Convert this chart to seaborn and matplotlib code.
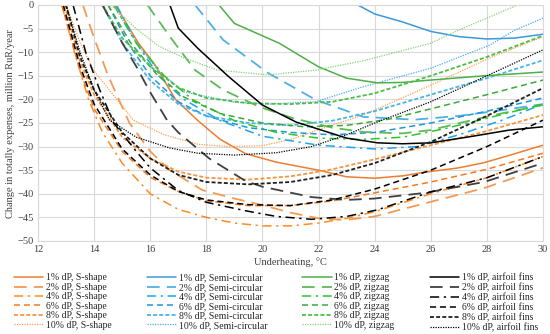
import matplotlib
matplotlib.use("Agg")
import matplotlib.pyplot as plt
import seaborn as sns
import pandas as pd

# ---------------- data ----------------
pcts = ["1%", "2%", "4%", "6%", "8%", "10%"]

# S-shape (orange)
s1_x = [14.76, 15.57, 16.17, 16.5, 16.9, 17.7, 18.5, 19.4, 20.5, 22, 23, 24, 25, 25.7, 27, 27.9, 29, 30]
s1_y = [0, -8, -12.7, -16, -20, -24.5, -28.5, -31.5, -33.3, -35, -36.4, -36.7, -36.2, -35.5, -34.5, -33.4, -31.5, -29.7]
s2_x = [13.6, 14, 14.5, 15.26, 16, 16.7, 17.85, 19, 20, 21, 22.1, 23, 24, 25.8, 27.9, 30]
s2_y = [0, -7, -15, -25, -31, -35, -39.2, -41, -42.4, -44, -45.3, -45.5, -44.8, -42, -38.8, -34.5]
s4_x = [12.85, 13.3, 13.8, 14.3, 15, 16, 17, 18, 19, 20, 21, 22, 23, 24, 26, 28, 30]
s4_y = [0, -10, -20, -27, -33.5, -40, -43.3, -45, -46.2, -46.8, -46.8, -46.2, -45.2, -43.8, -40, -36.6, -32.1]
s6_x = [12.85, 13.5, 14, 15, 16, 17, 18, 19.5, 21, 22.5, 24, 26, 28, 30]
s6_y = [0, -14, -22, -31, -36.5, -39.5, -41.5, -42.5, -42.5, -41.5, -39.8, -37.5, -34.8, -31.4]
s8_x = [12.95, 13.5, 14, 15, 16, 17, 18, 19.5, 21, 22.5, 24, 26, 28, 30]
s8_y = [0, -12, -19, -28, -32.5, -35.3, -36.6, -37, -36.3, -34.8, -32.7, -29.7, -26.7, -23.3]
s10_x = [13.0, 13.5, 14, 15.4, 16.5, 17.7, 18.8, 20, 21, 22.2, 23.6, 26, 28.1, 30]
s10_y = [0, -8, -14, -24.4, -27.5, -29.5, -30, -29.8, -28.5, -26, -23.3, -17, -11.2, -6.7]

# Semi-circular (blue)
c1_x = [23.4, 24, 25, 26, 27, 28, 29, 30]
c1_y = [0, -1.9, -3.6, -5.6, -6.7, -7.2, -7.0, -6.2]
c2_x = [17.6, 18.6, 20.2, 21.9, 23.6, 25.4, 27, 28.5, 30]
c2_y = [0, -7.4, -14.4, -20.1, -23.7, -24.3, -23.5, -22.3, -21]
c4_x = [14.8, 15.5, 16.3, 17.2, 18.5, 20, 22, 24, 25.5, 27, 28.5, 30]
c4_y = [0, -8, -15, -20, -24.5, -27.8, -29.7, -30.5, -30, -27.5, -24.5, -21]
c6_x = [14.5, 15.2, 16, 17, 18, 19.5, 21, 22.5, 24, 26, 28, 30]
c6_y = [0, -8, -15, -20.5, -23.5, -26, -27, -27.5, -27, -25, -22.5, -19.7]
c8_x = [14.3, 15, 16, 17, 18, 19.5, 21, 22.5, 24, 26, 28, 30]
c8_y = [0, -8, -16, -21, -23.5, -25, -25.5, -24.5, -22.5, -19, -15.5, -11.7]
c10_x = [14.7, 15.5, 16.3, 17.2, 19, 20.2, 21.9, 23.6, 26, 28.1, 29, 30]
c10_y = [0, -8, -14, -18.4, -20.6, -21, -20.5, -17.3, -13.4, -8.5, -5.3, -2.8]

# zigzag (green)
z1_x = [18.45, 19, 20.6, 22, 23, 24.1, 25, 26, 27.9, 30]
z1_y = [0, -3.9, -8.1, -13.1, -15.5, -16.5, -16.4, -15.9, -15.0, -14.2]
z2_x = [15.9, 16.8, 17.6, 18.6, 19.9, 21.1, 22.5, 23.6, 25, 26, 27.1, 28.5, 30]
z2_y = [0, -7.5, -13.8, -18, -21.6, -24, -26, -26.9, -27.2, -26.5, -24.9, -23, -21.2]
z4_x = [14.7, 15.5, 16.5, 17.5, 19, 20.5, 22, 23.5, 25, 26.5, 28, 30]
z4_y = [0, -8, -15, -20, -24.5, -27, -28.2, -28.5, -28, -26.2, -24, -21]
z6_x = [14.5, 15.3, 16.2, 17.2, 18.5, 20, 21.5, 23, 24.5, 26, 28, 30]
z6_y = [0, -8, -14.5, -19.5, -23, -25, -25.8, -25.5, -24.2, -22, -19, -15.9]
z8_x = [14.3, 15, 16, 17, 18, 19.5, 21, 22.5, 24, 26, 28, 30]
z8_y = [0, -7, -13, -17.5, -19.7, -20.8, -21, -20.5, -18.7, -15, -11, -6.5]
z10_x = [14.6, 15.5, 16.3, 17.2, 18.4, 20.2, 21.9, 23.6, 26, 27, 29.1, 30]
z10_y = [0, -5, -8.7, -11.2, -13.8, -14.8, -13.8, -11.8, -8.1, -5.3, 0, 2.5]

# airfoil fins (black)
a1_x = [16.7, 17, 17.7, 18.8, 20, 21.2, 22.1, 23, 24.1, 25, 26, 27.4, 28.8, 30]
a1_y = [0, -4.9, -9.2, -15.2, -21.2, -24.8, -26.5, -28.2, -29.2, -29.4, -29.2, -27.9, -26.5, -25.8]
a2_x = [14.3, 15, 15.5, 16, 16.6, 17, 17.5, 18.1, 19.4, 20, 21.75, 23, 24, 25.8, 27.9, 30]
a2_y = [0, -8, -13, -18.5, -24.4, -27, -29.5, -32.5, -37.3, -38.5, -40.7, -41.3, -41, -39.8, -37.5, -33.5]
a4_x = [13.25, 13.7, 14.2, 14.7, 15.5, 16, 17, 18, 19.4, 20.5, 21.75, 23, 24.1, 26, 28, 30]
a4_y = [0, -10, -18, -25, -31, -34.5, -39.3, -41.8, -43.6, -44.8, -45.4, -44.8, -43.4, -39.6, -36.6, -32.1]
a6_x = [12.9, 13.5, 14, 15, 16, 17, 18, 19.5, 21, 22.5, 24, 26, 28, 30]
a6_y = [0, -13, -21, -30.5, -36, -39.5, -41.3, -42.3, -42.5, -41.3, -39, -35, -30, -24.4]
a8_x = [13.0, 13.5, 14, 15, 16, 17, 18, 19.5, 21, 22.5, 24, 26, 28, 30]
a8_y = [0, -11, -18, -27, -32.5, -36, -37.5, -38, -37.5, -36, -33.5, -29, -23.5, -17.6]
a10_x = [13.0, 13.5, 14, 14.55, 15.5, 16.7, 17.7, 19, 20.5, 21.75, 23, 24, 26, 28, 30]
a10_y = [0, -10, -18, -24.4, -28, -30.3, -31.4, -31.8, -31.3, -30, -27.5, -25, -20.5, -15, -9.5]

fin_types = ["S-shape", "Semi-circular", "zigzag", "airfoil fins"]
series = {
    "S-shape": [(s1_x, s1_y), (s2_x, s2_y), (s4_x, s4_y), (s6_x, s6_y), (s8_x, s8_y), (s10_x, s10_y)],
    "Semi-circular": [(c1_x, c1_y), (c2_x, c2_y), (c4_x, c4_y), (c6_x, c6_y), (c8_x, c8_y), (c10_x, c10_y)],
    "zigzag": [(z1_x, z1_y), (z2_x, z2_y), (z4_x, z4_y), (z6_x, z6_y), (z8_x, z8_y), (z10_x, z10_y)],
    "airfoil fins": [(a1_x, a1_y), (a2_x, a2_y), (a4_x, a4_y), (a6_x, a6_y), (a8_x, a8_y), (a10_x, a10_y)],
}

x_ticks = [12, 14, 16, 18, 20, 22, 24, 26, 28, 30]
y_ticks = [0, -5, -10, -15, -20, -25, -30, -35, -40, -45, -50]

# ---------------- styles ----------------
colors = {
    "S-shape": ["#ED7D31", "#F39A55", "#FF8A1F", "#F47A22", "#F7943F", "#FFA050"],
    "Semi-circular": ["#3A9AD9", "#4FB0E6", "#1DA5EC", "#1F95DC", "#45B5EA", "#4AAEF0"],
    "zigzag": ["#4DAF47", "#5DBB55", "#2DC52D", "#3AAA3A", "#4BBE45", "#86D27A"],
    "airfoil fins": ["#000000", "#404040", "#000000", "#000000", "#202020", "#000000"],
}
styles = ["-", (0, (7, 4)), (0, (6, 3, 1.5, 3)), (0, (4, 2.5)), (0, (2.2, 1.2)), (0, (1, 1))]
widths = [1.1, 1.3, 1.1, 1.1, 1.3, 0.9]

sns.set_theme(style="whitegrid")
plt.rcParams["font.family"] = ["Liberation Serif", "DejaVu Serif"]

fig = plt.figure(figsize=(5.5, 3.34), dpi=100)
ax = fig.add_axes([38 / 550, 1 - 241 / 334, (543 - 38) / 550, (241 - 5) / 334])

handles = []
labels = []
for ft in fin_types:
    for i, (xs, ys) in enumerate(series[ft]):
        df = pd.DataFrame({"x": xs, "y": ys})
        sns.lineplot(data=df, x="x", y="y", ax=ax, color=colors[ft][i],
                     linestyle=styles[i], linewidth=widths[i], sort=True,
                     estimator=None)
        line = ax.lines[-1]
        handles.append(line)
        labels.append(f"{pcts[i]} dP, {ft}")

ax.set_xlim(12, 30)
ax.set_ylim(-50, 0)
ax.set_xticks(x_ticks)
ax.set_yticks(y_ticks)
ax.tick_params(axis="both", labelsize=7.5, length=0, pad=3, colors="#404040")
for lab in ax.get_xticklabels() + ax.get_yticklabels():
    lab.set_color("#404040")
ax.grid(True, color="#D9D9D9", linewidth=0.8)
for sp in ax.spines.values():
    sp.set_color("#D9D9D9")
    sp.set_linewidth(0.8)
ax.set_facecolor("white")

ax.set_xlabel("Underheating, °C", fontsize=7.5, color="#404040", labelpad=2)
ax.set_ylabel("Change in totally expenses, million RuR/year", fontsize=7.5,
              color="#404040", labelpad=2)

fig.legend(handles, labels, loc="upper left", bbox_to_anchor=(14 / 550, 1 - 273 / 334),
           ncol=4, frameon=False, fontsize=7, handlelength=3.0, handletextpad=0.3,
           labelspacing=0.05, columnspacing=3.6, borderaxespad=0, borderpad=0)

fig.savefig("out.png", dpi=100)
